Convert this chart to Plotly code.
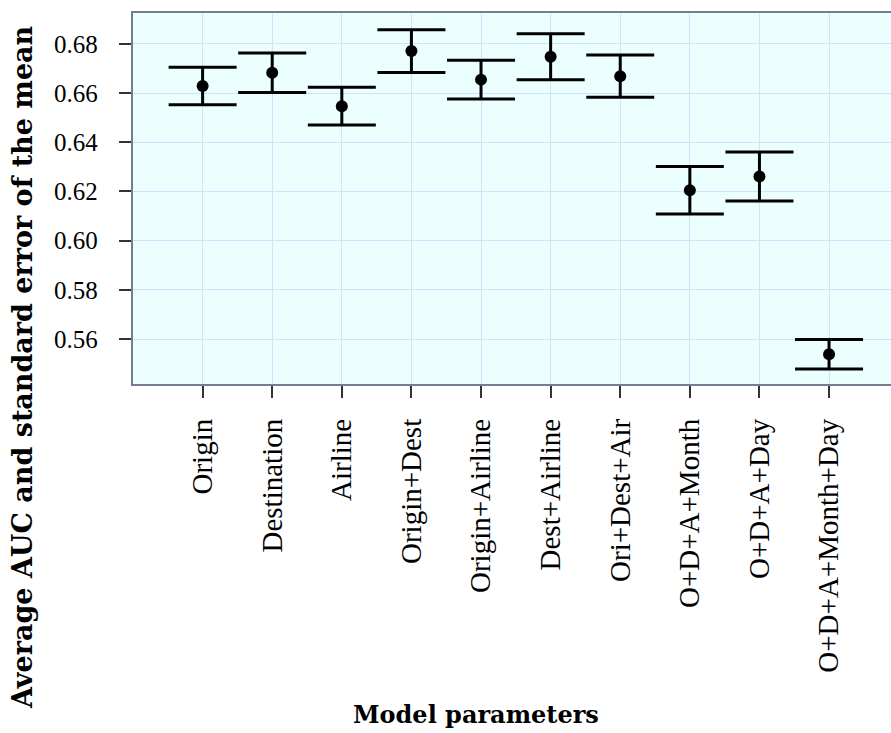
import plotly.graph_objects as go

categories = ["Origin", "Destination", "Airline", "Origin+Dest", "Origin+Airline",
              "Dest+Airline", "Ori+Dest+Air", "O+D+A+Month", "O+D+A+Day", "O+D+A+Month+Day"]
mean_auc = [0.6629, 0.6683, 0.6547, 0.6771, 0.6655, 0.6748, 0.6669, 0.6205, 0.6261, 0.5538]
sem_auc = [0.0076, 0.0080, 0.0077, 0.0087, 0.0079, 0.0094, 0.0086, 0.0097, 0.0100, 0.0060]
y_ticks = [0.56, 0.58, 0.60, 0.62, 0.64, 0.66, 0.68]

W, H = 891, 733
L, R, T, B = 133, 0, 13, 349

fig = go.Figure()
fig.add_trace(go.Scatter(
    x=list(range(len(categories))), y=mean_auc, mode="markers",
    marker=dict(color="black", size=12),
    error_y=dict(type="data", array=sem_auc, symmetric=True,
                 color="black", thickness=3, width=34),
    showlegend=False,
))

grid_c = "#d3e2fb"
frame_c = "#737f91"

fig.update_layout(
    width=W, height=H,
    margin=dict(l=L, r=R, t=T, b=B),
    paper_bgcolor="white",
    plot_bgcolor="#ebffff",
    xaxis=dict(
        range=[-1, 9.89],
        tickmode="array", tickvals=list(range(len(categories))), ticktext=categories,
        tickangle=-90, tickfont=dict(family="Liberation Serif", size=29, color="black"),
        showgrid=True, gridcolor=grid_c, gridwidth=1.2,
        zeroline=False,
        showline=True, linecolor=frame_c, linewidth=2.4, mirror=True,
        ticks="outside", ticklen=12, tickwidth=1.6, tickcolor="#333333",
        ticklabelstandoff=9,
    ),
    yaxis=dict(
        range=[0.5417, 0.6926],
        tickmode="array", tickvals=y_ticks, ticktext=[f"{v:.2f}" for v in y_ticks],
        tickfont=dict(family="Liberation Serif", size=25, color="black"),
        showgrid=True, gridcolor=grid_c, gridwidth=1.2,
        zeroline=False,
        showline=True, linecolor=frame_c, linewidth=2.4,
        ticks="outside", ticklen=12, tickwidth=1.6, tickcolor="#333333",
        ticklabelstandoff=16,
    ),
    annotations=[
        dict(text="<b>Model parameters</b>", xref="paper", yref="paper",
             x=(476 - L) / (W - L), y=(H - B - 714) / (H - B - T),
             xanchor="center", yanchor="middle", showarrow=False,
             font=dict(family="DejaVu Serif", size=24, color="black")),
        dict(text="<b>Average AUC and standard error of the mean</b>", xref="paper", yref="paper",
             x=(22 - L) / (W - L), y=(H - B - 367) / (H - B - T),
             xanchor="center", yanchor="middle", showarrow=False, textangle=-90,
             font=dict(family="DejaVu Serif", size=27, color="black")),
    ],
)

fig.write_html("out.html")
